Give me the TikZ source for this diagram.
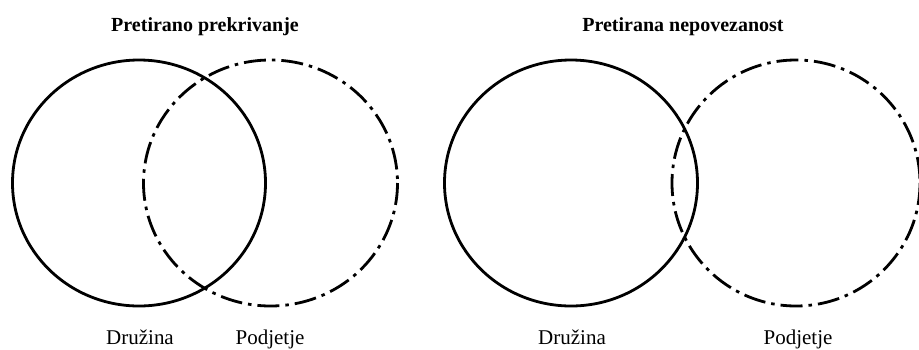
\documentclass[tikz,border=0pt]{standalone}
\usepackage{fontspec}
\setmainfont{Liberation Serif}
\begin{document}
\begin{tikzpicture}[x=1pt,y=-1pt,
  ring/.style={line width=2.8pt},
  dashring/.style={line width=2.8pt, dash pattern=on 22pt off 6pt on 3.5pt off 6pt},
  ttl/.style={font=\fontsize{20}{24}\selectfont\bfseries, anchor=base},
  lbl/.style={font=\fontsize{21}{25}\selectfont, anchor=base}]
\useasboundingbox (0,0) rectangle (919,349);
% left panel
\draw[ring] (139,183) ellipse [x radius=126.5, y radius=123];
\draw[dashring] (270.5,183) ellipse [x radius=127, y radius=123];
\node[ttl] (t1) at (205,31) {Pretirano prekrivanje};
\node[lbl] (d1) at (140,344) {Družina};
\node[lbl] (p1) at (270,344) {Podjetje};
% right panel
\draw[ring] (571,183) ellipse [x radius=126.5, y radius=123];
\draw[dashring] (796,183) ellipse [x radius=124, y radius=123];
\node[ttl] (t2) at (683,31) {Pretirana nepovezanost};
\node[lbl] (d2) at (572,344) {Družina};
\node[lbl] (p2) at (798,344) {Podjetje};
\end{tikzpicture}
\end{document}
